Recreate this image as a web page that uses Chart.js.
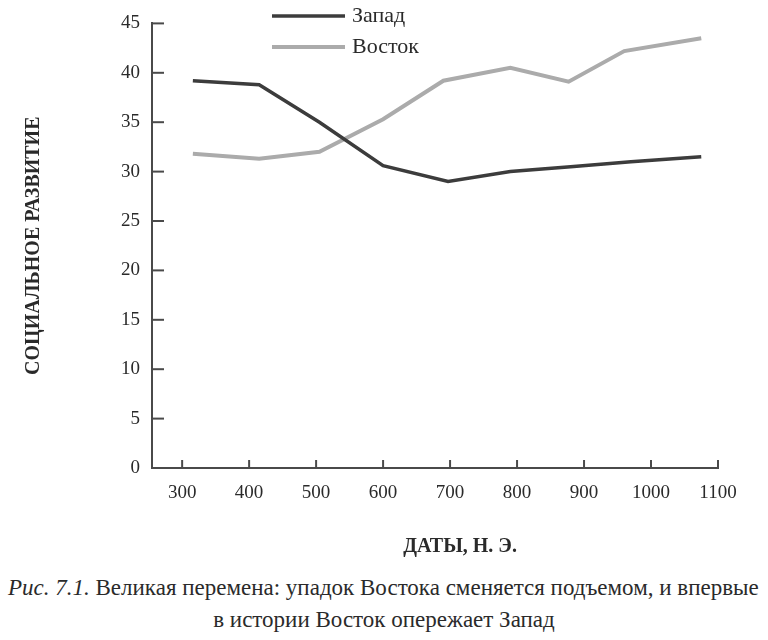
<!DOCTYPE html>
<html>
<head>
<meta charset="utf-8">
<script src="https://cdn.jsdelivr.net/npm/chart.js@4/dist/chart.umd.min.js"></script>
<style>
  body { margin: 0; background: #fff; width: 768px; height: 640px; overflow: hidden; }
  #wrap { position: relative; width: 768px; height: 560px; }
  .cap { position: absolute; font-family: "Liberation Serif", serif; font-size: 23px; color: #2a2a2a; white-space: nowrap; }
  #cap1 { top: 575px; left: 8px; }
  #cap2 { top: 607px; left: 0; width: 768px; text-align: center; }
</style>
</head>
<body>
<div id="wrap"><canvas id="grafica" width="768" height="560"></canvas></div>
<div class="cap" id="cap1"><i>Рис. 7.1.</i> Великая перемена: упадок Востока сменяется подъемом, и впервые</div>
<div class="cap" id="cap2">в истории Восток опережает Запад</div>
<script>
// годы и значения
const anosOeste = [316, 415, 505, 600, 697, 790, 880, 970, 1075];
const valoresOeste = [39.2, 38.8, 35.0, 30.6, 29.0, 30.0, 30.5, 31.0, 31.5];
const anosEste = [316, 415, 505, 600, 690, 790, 877, 960, 1075];
const valoresEste = [31.8, 31.3, 32.0, 35.3, 39.2, 40.5, 39.1, 42.2, 43.5];
const ticksX = [300, 400, 500, 600, 700, 800, 900, 1000, 1100];
const ticksY = [0, 5, 10, 15, 20, 25, 30, 35, 40, 45];
const etiquetas = ['Запад', 'Восток'];

const fuente = '"Liberation Serif", serif';

// рисочки внутрь, подпись оси X и легенда
const marcas = {
    id: 'marcas',
    afterDraw(chart) {
        const ctx = chart.ctx;
        const x = chart.scales.x, y = chart.scales.y;
        const a = chart.chartArea;
        ctx.save();
        ctx.strokeStyle = '#4a4a4a';
        ctx.lineWidth = 2;
        ticksX.forEach(v => {
            const px = x.getPixelForValue(v);
            ctx.beginPath(); ctx.moveTo(px, a.bottom); ctx.lineTo(px, a.bottom - 8); ctx.stroke();
        });
        ticksY.forEach(v => {
            const py = y.getPixelForValue(v);
            ctx.beginPath(); ctx.moveTo(a.left, py); ctx.lineTo(a.left + 12, py); ctx.stroke();
        });
        // подпись оси X чуть правее центра, как в книге
        ctx.fillStyle = '#2a2a2a';
        ctx.font = 'bold 20px ' + fuente;
        ctx.textAlign = 'center';
        ctx.textBaseline = 'middle';
        ctx.fillText('ДАТЫ, Н. Э.', x.getPixelForValue(715), 547);
        ctx.textAlign = 'left';
        ctx.font = '22px ' + fuente;
        chart.data.datasets.forEach((ds, i) => {
            const ly = 16 + i * 31;
            ctx.strokeStyle = ds.borderColor;
            ctx.lineWidth = ds.borderWidth;
            ctx.beginPath(); ctx.moveTo(272, ly); ctx.lineTo(345, ly); ctx.stroke();
            ctx.fillStyle = '#2a2a2a';
            ctx.fillText(ds.label, 352, ly);
        });
        ctx.restore();
    }
};

new Chart(document.getElementById('grafica'), {
    type: 'line',
    data: {
        datasets: [
            { label: etiquetas[0], data: anosOeste.map((a, i) => ({ x: a, y: valoresOeste[i] })), borderColor: '#3c3c3c', borderWidth: 3.5, pointRadius: 0, tension: 0 },
            { label: etiquetas[1], data: anosEste.map((a, i) => ({ x: a, y: valoresEste[i] })), borderColor: '#ababab', borderWidth: 4, pointRadius: 0, tension: 0 }
        ]
    },
    options: {
        responsive: false,
        animation: false,
        layout: { padding: { top: 14, right: 50, bottom: 0, left: 0 } },
        plugins: { legend: { display: false }, tooltip: { enabled: false } },
        scales: {
            x: {
                type: 'linear', min: 255, max: 1100,
                afterBuildTicks: s => { s.ticks = ticksX.map(v => ({ value: v })); },
                afterFit: s => { s.height = 92; },
                grid: { display: false, drawTicks: false },
                border: { color: '#4a4a4a', width: 2 },
                ticks: { autoSkip: false, maxRotation: 0, padding: 14, color: '#2a2a2a', font: { family: fuente, size: 19 }, callback: v => String(v) }
            },
            y: {
                min: 0, max: 45,
                afterBuildTicks: s => { s.ticks = ticksY.map(v => ({ value: v })); },
                afterFit: s => { s.width = 152; },
                grid: { display: false, drawTicks: false },
                border: { color: '#4a4a4a', width: 2 },
                ticks: { padding: 12, color: '#2a2a2a', font: { family: fuente, size: 19 } },
                title: { display: true, text: 'СОЦИАЛЬНОЕ РАЗВИТИЕ', color: '#2a2a2a', padding: { top: 22, bottom: 0 }, font: { family: fuente, size: 20, weight: 'bold' } }
            }
        }
    },
    plugins: [marcas]
});
</script>
</body>
</html>
